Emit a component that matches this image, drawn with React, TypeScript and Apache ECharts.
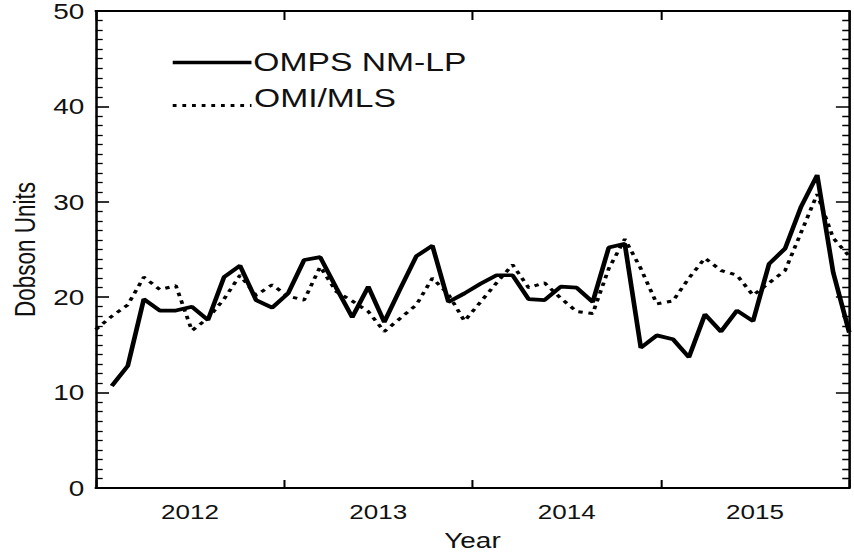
import React, { useEffect, useRef } from "react";
import * as echarts from "echarts";

// Monthly samples, Jan 2012 .. Dec 2015
const months: string[] = [
  "2012-01","2012-02","2012-03","2012-04","2012-05","2012-06","2012-07","2012-08","2012-09","2012-10","2012-11","2012-12",
  "2013-01","2013-02","2013-03","2013-04","2013-05","2013-06","2013-07","2013-08","2013-09","2013-10","2013-11","2013-12",
  "2014-01","2014-02","2014-03","2014-04","2014-05","2014-06","2014-07","2014-08","2014-09","2014-10","2014-11","2014-12",
  "2015-01","2015-02","2015-03","2015-04","2015-05","2015-06","2015-07","2015-08","2015-09","2015-10","2015-11","2015-12",
];

const ompsNmLp: (number | null)[] = [
  null, 10.7, 12.8, 19.8, 18.6, 18.6, 19.0, 17.6, 22.1, 23.3, 19.7, 18.9,
  20.4, 23.9, 24.2, 21.0, 17.9, 21.1, 17.4, 20.9, 24.3, 25.4, 19.5, 20.4,
  21.4, 22.3, 22.3, 19.8, 19.7, 21.1, 21.0, 19.5, 25.2, 25.6, 14.7, 16.0,
  15.6, 13.7, 18.2, 16.4, 18.6, 17.5, 23.5, 25.1, 29.5, 32.8, 22.6, 16.3,
];

const omiMls: number[] = [
  16.6, 18.0, 19.2, 22.1, 20.8, 21.2, 16.5, 17.8, 19.8, 22.3, 20.2, 21.3,
  20.1, 19.7, 23.2, 20.6, 19.6, 18.5, 16.4, 17.8, 19.2, 22.0, 20.3, 17.5,
  19.5, 21.5, 23.4, 21.0, 21.5, 19.9, 18.5, 18.3, 23.0, 26.1, 23.0, 19.3,
  19.6, 22.0, 24.1, 22.8, 22.3, 20.2, 21.5, 22.8, 26.8, 30.8, 26.2, 24.3,
];

const years: number[] = [2012, 2013, 2014, 2015];
const seriesNames: string[] = ["OMPS NM-LP", "OMI/MLS"];

const S = 1.27; // horizontal stretch of the original figure
const W = 854 / S;
const H = 556;
const FONT = "'Liberation Sans', Arial, Helvetica, sans-serif";
const INK = "#111";
const TICK = "#000";

export default function App() {
  const ref = useRef<HTMLDivElement>(null);

  useEffect(() => {
    if (!ref.current) return;
    const chart = echarts.init(ref.current, null, { renderer: "svg" });

    const gridLeft = 93.5 / S;
    const gridRight = (854 - 849.8) / S;

    const frameAxisLine = { show: true, onZero: false, lineStyle: { color: "#000", width: 2 } };
    const yTicks = {
      axisTick: { show: true, inside: true, length: 10.5, lineStyle: { color: TICK, width: 1.6 } },
      minorTick: { show: true, splitNumber: 10, length: 5.5, lineStyle: { color: TICK, width: 1.3 } },
    };

    chart.setOption({
      animation: false,
      backgroundColor: "#fff",
      grid: { left: gridLeft, right: gridRight, top: 8, bottom: 63, containLabel: false },
      xAxis: [
        {
          type: "category",
          data: months,
          boundaryGap: false,
          show: false,
        },
        {
          type: "value",
          min: 0,
          max: years.length,
          interval: 1,
          position: "bottom",
          axisLine: frameAxisLine,
          axisTick: { show: true, inside: true, length: 8, lineStyle: { color: TICK, width: 1.6 } },
          axisLabel: { show: false },
          splitLine: { show: false },
        },
        {
          type: "value",
          min: 0,
          max: years.length,
          interval: 0.5,
          position: "bottom",
          axisLine: { show: false, onZero: false },
          axisTick: { show: false },
          splitLine: { show: false },
          axisLabel: {
            margin: 13,
            fontSize: 20.5,
            fontFamily: FONT,
            color: INK,
            formatter: (v: number) => {
              const f = v - Math.floor(v);
              if (Math.abs(f - 0.5) < 1e-6) {
                const idx = Math.floor(v);
                return idx < years.length ? String(years[idx]) : "";
              }
              return "";
            },
          },
          name: "Year",
          nameLocation: "middle",
          nameGap: 41,
          nameTextStyle: { fontSize: 22, fontFamily: FONT, color: INK },
        },
        {
          type: "value",
          min: 0,
          max: years.length,
          interval: 1,
          position: "top",
          axisLine: frameAxisLine,
          axisTick: { show: true, inside: true, length: 9, lineStyle: { color: TICK, width: 1.6 } },
          axisLabel: { show: false },
          splitLine: { show: false },
        },
      ],
      yAxis: [
        {
          type: "value",
          min: 0,
          max: 50,
          interval: 10,
          position: "left",
          axisLine: frameAxisLine,
          ...yTicks,
          axisLabel: { margin: 9, fontSize: 22, fontFamily: FONT, color: INK },
          splitLine: { show: false },
          name: "Dobson Units",
          nameLocation: "middle",
          nameGap: 44,
          nameTextStyle: { fontSize: 22.5, fontFamily: FONT, color: INK },
        },
        {
          type: "value",
          min: 0,
          max: 50,
          interval: 10,
          position: "right",
          axisLine: frameAxisLine,
          ...yTicks,
          axisLabel: { show: false },
          splitLine: { show: false },
        },
      ],
      series: [
        {
          name: seriesNames[1],
          type: "line",
          xAxisIndex: 0,
          yAxisIndex: 0,
          data: omiMls,
          symbol: "none",
          lineStyle: { color: "#000", width: 3, type: [3.5, 4.5] },
          z: 2,
        },
        {
          name: seriesNames[0],
          type: "line",
          xAxisIndex: 0,
          yAxisIndex: 0,
          data: ompsNmLp,
          symbol: "none",
          lineStyle: { color: "#000", width: 3.7 },
          z: 3,
        },
      ],
      graphic: [
        {
          type: "line",
          shape: { x1: 136, y1: 62.5, x2: 198, y2: 62.5 },
          style: { stroke: "#000", lineWidth: 3.7 },
        },
        {
          type: "text",
          x: 199.5,
          y: 62,
          style: {
            text: seriesNames[0],
            fontSize: 26.5,
            fontFamily: FONT,
            fill: INK,
            verticalAlign: "middle",
            align: "left",
          },
        },
        {
          type: "line",
          shape: { x1: 136, y1: 105.5, x2: 198, y2: 105.5 },
          style: { stroke: "#000", lineWidth: 3, lineDash: [3, 4.6] },
        },
        {
          type: "text",
          x: 200,
          y: 98,
          style: {
            text: seriesNames[1],
            fontSize: 26.5,
            fontFamily: FONT,
            fill: INK,
            verticalAlign: "middle",
            align: "left",
          },
        },
      ],
    });

    return () => chart.dispose();
  }, []);

  return (
    <div style={{ position: "fixed", left: 0, top: 0, width: 854, height: H, overflow: "hidden", background: "#fff" }}>
      <div
        ref={ref}
        style={{ width: W, height: H, transform: `scaleX(${S})`, transformOrigin: "0 0" }}
      />
    </div>
  );
}
